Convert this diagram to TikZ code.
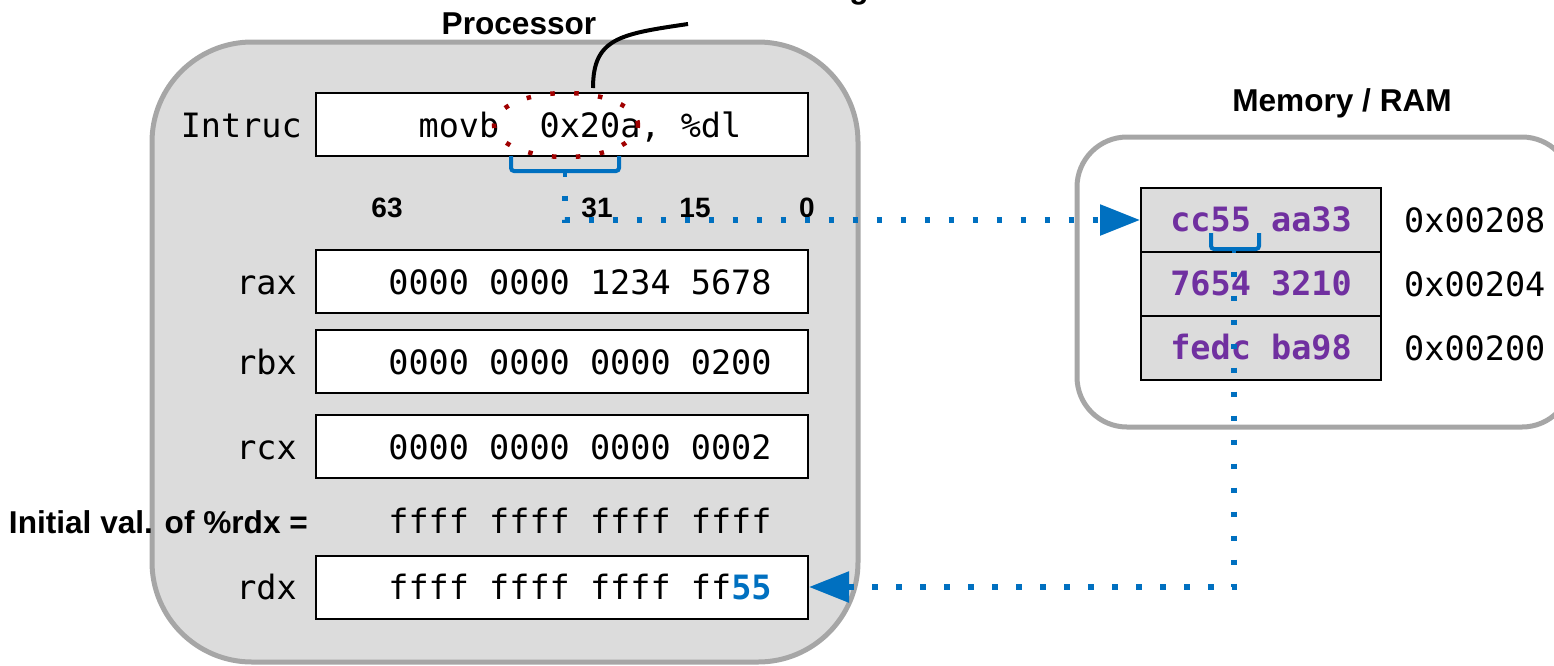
\documentclass[tikz,border=0pt]{standalone}
\usepackage{fontspec}
\setmainfont{Liberation Sans}
\setmonofont{DejaVu Sans Mono}
\usetikzlibrary{arrows.meta,shapes.geometric}

\definecolor{panelgray}{HTML}{DCDCDC}
\definecolor{edgegray}{HTML}{A6A6A6}
\definecolor{linkblue}{HTML}{0070C0}
\definecolor{valpurple}{HTML}{7030A0}
\definecolor{markred}{HTML}{A00000}

\tikzset{
  panel/.style={draw=edgegray, line width=5pt},
  regbox/.style={draw=black, line width=2pt, fill=white, inner sep=0pt,
                 minimum width=492pt, minimum height=63pt},
  cellbox/.style={draw=black, line width=2pt, fill=panelgray, inner sep=0pt,
                  minimum width=240pt, minimum height=64pt},
  mono/.style={font=\fontsize{33.5}{40}\selectfont\ttfamily, inner sep=0pt},
  monobold/.style={font=\fontsize{33.5}{40}\selectfont\ttfamily\bfseries, inner sep=0pt},
  title/.style={font=\fontsize{31.6}{38}\selectfont\bfseries, inner sep=0pt},
  bitlabel/.style={font=\fontsize{28}{34}\selectfont\bfseries, inner sep=0pt, anchor=base},
  regname/.style={mono, anchor=base east},
  regval/.style={mono, anchor=base},
  cellval/.style={monobold, anchor=base, text=valpurple},
  addrlabel/.style={mono, anchor=base west},
  bracket/.style={draw=linkblue, line width=4pt, rounded corners=3pt},
  dotlink/.style={draw=linkblue, line width=5.5pt, dash pattern=on 5.5pt off 18.5pt,
                  dash phase=5.5pt, -{Triangle[length=40pt, width=30pt]}},
}

\begin{document}
\begin{tikzpicture}[x=1pt, y=-1pt]
  \useasboundingbox (0,0) rectangle (1554,665);
  \clip (0,0) rectangle (1554,665);

  % processor panel and memory panel
  \draw[panel, fill=panelgray, rounded corners=100pt] (152,42) rectangle (858,662);
  \draw[panel, fill=white, rounded corners=50pt] (1077,137) rectangle (1572,427);

  \node[title, anchor=base] (proclabel) at (519,34.3) {Processor};
  \node[title, anchor=base] (memlabel) at (1342,111.7) {Memory / RAM};
  \node[title, anchor=base] (toptitle) at (859,-1.5) {g};

  % instruction register
  \node[regbox] (instr) at (562,124) {};
  \node[regname] (instrname) at (302,137.5) {Intruc};
  \node[regval] (instrtext) at (580,137.5) {movb~~0x20a, \%dl};

  % bit positions
  \node[bitlabel] (b63) at (387,217.5) {63};
  \node[bitlabel] (b31) at (597,217.5) {31};
  \node[bitlabel] (b15) at (695,217.5) {15};
  \node[bitlabel] (b0)  at (807,217.5) {0};

  % general purpose registers
  \node[regbox] (rax) at (562,281.5) {};
  \node[regname] (raxname) at (297,294) {rax};
  \node[regval] (raxval) at (580,294) {0000 0000 1234 5678};

  \node[regbox] (rbx) at (562,361.5) {};
  \node[regname] (rbxname) at (297,374) {rbx};
  \node[regval] (rbxval) at (580,374) {0000 0000 0000 0200};

  \node[regbox] (rcx) at (562,446.5) {};
  \node[regname] (rcxname) at (297,459) {rcx};
  \node[regval] (rcxval) at (580,459) {0000 0000 0000 0002};

  \node[title, anchor=base east] (initlabel) at (308,533) {Initial val. of \%rdx =};
  \node[regval] (initval) at (580,533) {ffff ffff ffff ffff};

  \node[regbox] (rdx) at (562,587) {};
  \node[regname] (rdxname) at (297,599.5) {rdx};
  \node[regval] (rdxval) at (580,599.5) {ffff ffff ffff ff\textbf{\color{linkblue}55}};

  % memory cells
  \node[cellbox] (m208) at (1261,220) {};
  \node[cellbox] (m204) at (1261,284) {};
  \node[cellbox] (m200) at (1261,348) {};
  \node[cellval] (v208) at (1261,231) {cc55 aa33};
  \node[cellval] (v204) at (1261,295) {7654 3210};
  \node[cellval] (v200) at (1261,359) {fedc ba98};
  \node[addrlabel] (a208) at (1404,232) {0x00208};
  \node[addrlabel] (a204) at (1404,296) {0x00204};
  \node[addrlabel] (a200) at (1404,360) {0x00200};

  % highlighted operand
  \node[draw=markred, line width=4.5pt, dash pattern=on 4.5pt off 19.5pt,
        ellipse, inner sep=0pt, minimum width=144pt, minimum height=64pt]
        (operand) at (566,125) {};

  % callout line leaving the operand
  \coordinate (calloutfoot) at (593,88);
  \coordinate (callouttip) at (688,24);
  \draw[black, line width=4pt] (calloutfoot) .. controls (593,38) and (620,34) .. (callouttip);

  % braces marking the selected bytes
  \coordinate (ibr) at (565,177);
  \draw[bracket] (511,156) -- (511,171) -- (619,171) -- (619,156);
  \draw[linkblue, line width=4pt] (565,171) -- (ibr);

  \coordinate (mbr) at (1234,253);
  \draw[bracket] (1211,233) -- (1211,249) -- (1259,249) -- (1259,233);
  \draw[linkblue, line width=4pt] (1234,249) -- (mbr);

  % data paths
  \draw[dotlink] (ibr) |- (m208.west);
  \draw[dotlink] (mbr) |- (rdx.east);
\end{tikzpicture}
\end{document}
